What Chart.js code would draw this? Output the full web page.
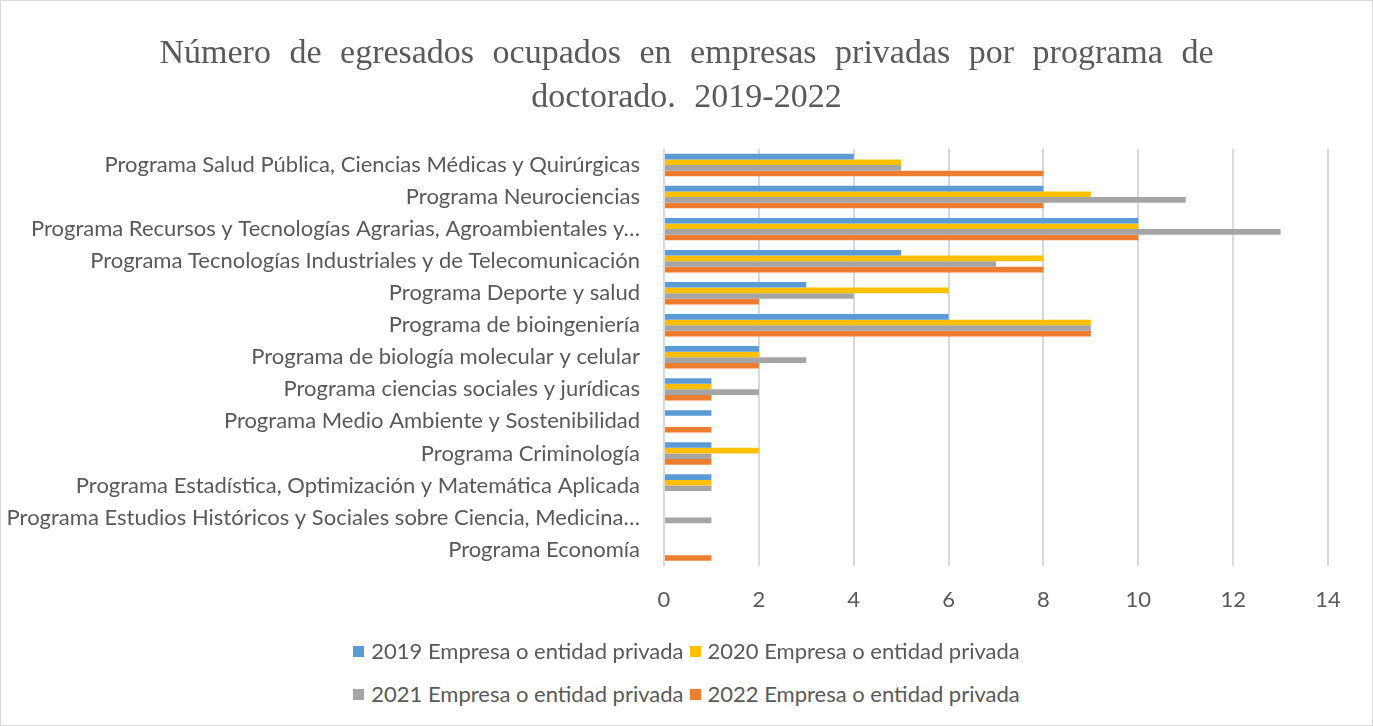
<!DOCTYPE html>
<html>
<head>
<meta charset="utf-8">
<script src="https://cdn.jsdelivr.net/npm/chart.js@4.4.0/dist/chart.umd.min.js"></script>
<style>
    body { margin: 0; background: #fff; }
    #wrap { position: relative; width: 1373px; height: 726px; box-sizing: border-box; border: 1px solid #d9d9d9; }
    #titulo { position: absolute; left: 0; top: 29px; width: 1371px; text-align: center; font-family: "Liberation Serif", "Times New Roman", serif; font-size: 34px; line-height: 44px; color: #595959; word-spacing: 10px; }
    #myChart { position: absolute; left: 0; top: 0; }
    .legendRow { position: absolute; left: 0; width: 1371px; text-align: center; font-family: Lato, "Liberation Sans", sans-serif; font-size: 22px; line-height: 26px; color: #595959; white-space: nowrap; }
    .legendItem { display: inline-block; margin: 0 3px; }
    .legendItem span.box { display: inline-block; width: 11px; height: 11px; margin-right: 7px; vertical-align: 2px; }
</style>
</head>
<body>
<div id="wrap">
    <canvas id="myChart" width="1371" height="640"></canvas>
    <div id="titulo"></div>
    <div class="legendRow" id="legend1" style="top: 637px;"></div>
    <div class="legendRow" id="legend2" style="top: 680px;"></div>
</div>
<script>
    var programas = [
        "Programa Salud Pública, Ciencias Médicas y Quirúrgicas",
        "Programa Neurociencias",
        "Programa Recursos y Tecnologías Agrarias, Agroambientales y…",
        "Programa Tecnologías Industriales y de Telecomunicación",
        "Programa Deporte y salud",
        "Programa de bioingeniería",
        "Programa de biología molecular y celular",
        "Programa ciencias sociales y jurídicas",
        "Programa Medio Ambiente y Sostenibilidad",
        "Programa Criminología",
        "Programa Estadística, Optimización y Matemática Aplicada",
        "Programa Estudios Históricos y Sociales sobre Ciencia, Medicina…",
        "Programa Economía"
    ];

    var valores2019 = [4, 8, 10, 5, 3, 6, 2, 1, 1, 1, 1, null, null];
    var valores2020 = [5, 9, 10, 8, 6, 9, 2, 1, null, 2, 1, null, null];
    var valores2021 = [5, 11, 13, 7, 4, 9, 3, 2, null, 1, 1, 1, null];
    var valores2022 = [8, 8, 10, 8, 2, 9, 2, 1, 1, 1, null, null, 1];

    var etiquetasSeries = [
        "2019 Empresa o entidad privada",
        "2020 Empresa o entidad privada",
        "2021 Empresa o entidad privada",
        "2022 Empresa o entidad privada"
    ];
    var colores = ["#5B9BD5", "#FFC000", "#A5A5A5", "#ED7D31"];
    var ticksX = [0, 2, 4, 6, 8, 10, 12, 14];

    var tituloLineas = ["Número de egresados ocupados en empresas privadas por programa de", "doctorado. 2019-2022"];

    document.getElementById('titulo').innerHTML = tituloLineas.join('<br>');

    var series = [valores2019, valores2020, valores2021, valores2022];
    var datasets = [];
    for (var i = 0; i < series.length; i++) {
        datasets.push({
            label: etiquetasSeries[i],
            data: series[i],
            backgroundColor: colores[i],
            borderWidth: 0,
            categoryPercentage: 0.7,
            barPercentage: 1.0
        });
    }

    const ctx = document.getElementById('myChart').getContext('2d');
    const myChart = new Chart(ctx, {
        type: 'bar',
        data: {
            labels: programas,
            datasets: datasets
        },
        options: {
            indexAxis: 'y',
            responsive: false,
            animation: false,
            layout: {
                padding: { left: 0, right: 44, top: 148, bottom: 7 }
            },
            plugins: {
                legend: { display: false },
                tooltip: { enabled: false },
                title: { display: false }
            },
            scales: {
                x: {
                    min: 0,
                    max: 14,
                    afterBuildTicks: function (scale) {
                        scale.ticks = ticksX.map(function (v) { return { value: v }; });
                    },
                    grid: { color: '#d9d9d9', lineWidth: 2, drawTicks: false },
                    border: { display: false },
                    ticks: {
                        color: '#595959',
                        padding: 21,
                        font: { family: 'Lato, "Liberation Sans", sans-serif', size: 22 }
                    }
                },
                y: {
                    grid: { display: false },
                    border: { display: false },
                    afterFit: function (scale) { scale.width = 663; },
                    ticks: {
                        color: '#595959',
                        padding: 16,
                        autoSkip: false,
                        font: { family: 'Lato, "Liberation Sans", sans-serif', size: 22 }
                    }
                }
            }
        }
    });

    // leyenda en dos filas como en la imagen
    for (var j = 0; j < etiquetasSeries.length; j++) {
        var item = document.createElement('span');
        item.className = 'legendItem';
        item.innerHTML = "<span class='box' style='background:" + colores[j] + "'></span>" + etiquetasSeries[j];
        document.getElementById(j < 2 ? 'legend1' : 'legend2').appendChild(item);
    }
</script>
</body>
</html>
